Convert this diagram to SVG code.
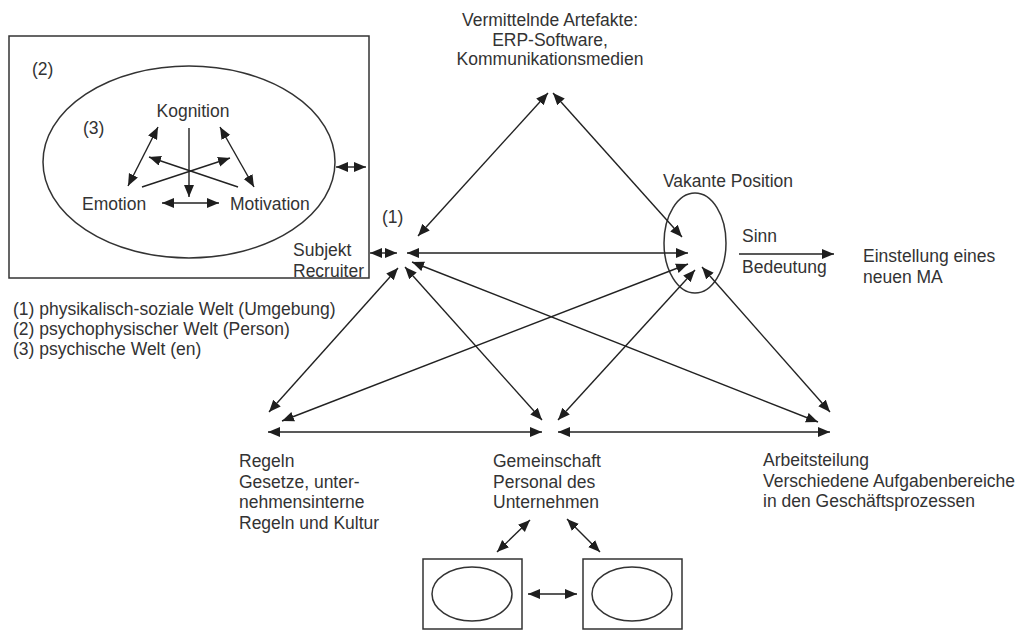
<svg xmlns="http://www.w3.org/2000/svg" width="1022" height="630" viewBox="0 0 1022 630">
  <defs>
    <marker id="ah" markerUnits="userSpaceOnUse" markerWidth="13" markerHeight="11" refX="12" refY="5" orient="auto-start-reverse">
      <path d="M0,0 L12,5 L0,10 z" fill="#1e1e1e"/>
    </marker>
    <style>
      text { font-family: "Liberation Sans", Arial, sans-serif; font-size: 17.5px; fill: #333; }
      .mid { text-anchor: middle; }
      .shape { fill: none; stroke: #333; stroke-width: 1.5; }
      .c line { stroke: #222; stroke-width: 1.4; }
      .two { marker-start: url(#ah); marker-end: url(#ah); }
      .one { marker-end: url(#ah); }
    </style>
  </defs>

  <rect width="1022" height="630" fill="#fff"/>

  <!-- Subject: the recruiter as a person with inner psychic world -->
  <g id="subjekt">
    <rect class="shape" x="9" y="36" width="360" height="242"/>
    <ellipse class="shape" cx="189" cy="162" rx="146" ry="96"/>
    <text x="32" y="75">(2)</text>
    <text x="83" y="134">(3)</text>
    <text x="193" y="117" class="mid">Kognition</text>
    <text x="82" y="210">Emotion</text>
    <text x="230" y="210">Motivation</text>
    <text x="293" y="256">Subjekt</text>
    <text x="293" y="277">Recruiter</text>
    <g class="c">
      <line class="two" x1="158" y1="127" x2="128" y2="186"/>
      <line class="two" x1="220" y1="127" x2="254" y2="187"/>
      <line class="one" x1="189" y1="128" x2="189" y2="197"/>
      <line class="one" x1="142" y1="187" x2="230" y2="158"/>
      <line class="one" x1="238" y1="187" x2="149" y2="157"/>
      <line class="two" x1="162" y1="203" x2="219" y2="203"/>
      <line class="two" x1="336" y1="167" x2="366" y2="167"/>
    </g>
  </g>

  <g id="welt1">
    <text x="382" y="223">(1)</text>
  </g>

  <g id="artefakte">
    <text x="550" y="26" class="mid">Vermittelnde Artefakte:</text>
    <text x="550" y="45.5" class="mid">ERP-Software,</text>
    <text x="550" y="65" class="mid">Kommunikationsmedien</text>
  </g>

  <g id="vakante-position">
    <ellipse class="shape" cx="695" cy="243" rx="31" ry="50"/>
    <text x="663" y="187">Vakante Position</text>
  </g>

  <g id="sinn">
    <text x="742" y="242">Sinn</text>
    <text x="742" y="273">Bedeutung</text>
  </g>

  <g id="einstellung">
    <text x="863" y="262">Einstellung eines</text>
    <text x="863" y="283">neuen MA</text>
  </g>

  <g id="legende">
    <text x="13" y="315">(1) physikalisch-soziale Welt (Umgebung)</text>
    <text x="13" y="335">(2) psychophysischer Welt (Person)</text>
    <text x="13" y="355">(3) psychische Welt (en)</text>
  </g>

  <g id="regeln">
    <text x="239" y="467">Regeln</text>
    <text x="239" y="487.5">Gesetze, unter-</text>
    <text x="239" y="508">nehmensinterne</text>
    <text x="239" y="528.5">Regeln und Kultur</text>
  </g>

  <g id="gemeinschaft">
    <text x="493" y="467">Gemeinschaft</text>
    <text x="493" y="487.5">Personal des</text>
    <text x="493" y="508">Unternehmen</text>
  </g>

  <g id="arbeitsteilung">
    <text x="763" y="466">Arbeitsteilung</text>
    <text x="763" y="486.5">Verschiedene Aufgabenbereiche</text>
    <text x="763" y="507">in den Geschäftsprozessen</text>
  </g>

  <g id="person-a">
    <rect class="shape" x="423" y="559" width="99" height="70"/>
    <ellipse class="shape" cx="472" cy="594" rx="40" ry="27"/>
  </g>

  <g id="person-b">
    <rect class="shape" x="583" y="559" width="99" height="70"/>
    <ellipse class="shape" cx="632" cy="594" rx="40" ry="27"/>
  </g>

  <!-- Connectors of the activity system -->
  <g id="connectors" class="c">
    <line class="two" x1="370" y1="253" x2="397" y2="253"/>
    <line class="two" x1="548" y1="93" x2="418" y2="236"/>
    <line class="two" x1="553" y1="93" x2="682" y2="237"/>
    <line class="two" x1="407" y1="253" x2="688" y2="253"/>
    <line class="one" x1="739" y1="254" x2="834" y2="254"/>
    <line class="two" x1="398" y1="268" x2="269" y2="412"/>
    <line class="two" x1="405" y1="267" x2="542" y2="420"/>
    <line class="two" x1="412" y1="262" x2="818" y2="422"/>
    <line class="two" x1="688" y1="264" x2="282" y2="421"/>
    <line class="two" x1="695" y1="270" x2="558" y2="420"/>
    <line class="two" x1="702" y1="267" x2="830" y2="412"/>
    <line class="two" x1="268" y1="432" x2="542" y2="432"/>
    <line class="two" x1="558" y1="432" x2="830" y2="432"/>
    <line class="two" x1="530" y1="520" x2="497" y2="552"/>
    <line class="two" x1="567" y1="519" x2="600" y2="552"/>
    <line class="two" x1="528" y1="594" x2="577" y2="594"/>
  </g>
</svg>
